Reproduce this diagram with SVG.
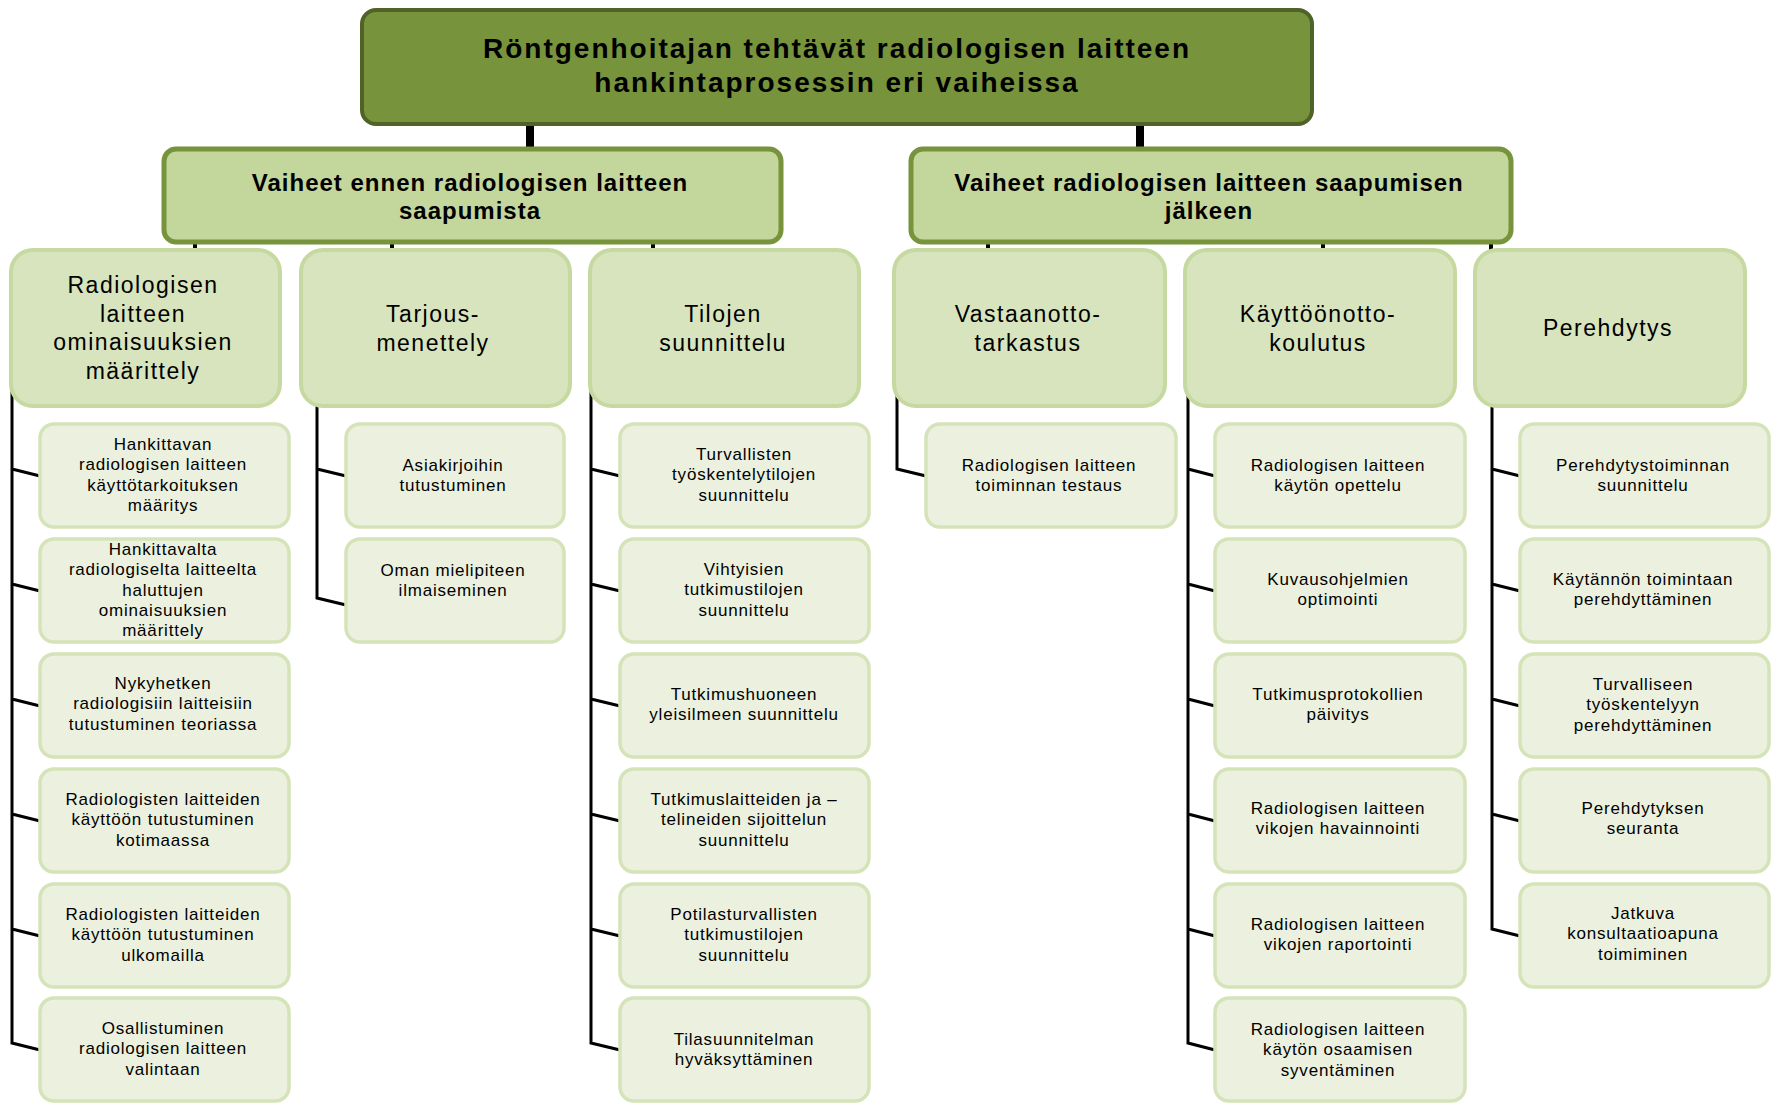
<svg xmlns="http://www.w3.org/2000/svg" width="1771" height="1103" viewBox="0 0 1771 1103">
<style>
.l1{fill:#77933C;stroke:#4F6228;stroke-width:4}
.l2{fill:#C3D69B;stroke:#77933C;stroke-width:5}
.l3{fill:#D7E4BD;stroke:#C6D9A0;stroke-width:4}
.l4{fill:#EBF1DE;stroke:#D5E3B8;stroke-width:3.5}
text{font-family:"Liberation Sans",Arial,sans-serif;fill:#000;text-anchor:middle}
.t1{font-size:28px;font-weight:bold;letter-spacing:2px}
.t2{font-size:24px;font-weight:bold;letter-spacing:1px}
.t3{font-size:23px;letter-spacing:1.5px}
.t4{font-size:17px;letter-spacing:0.8px}
.c{stroke:#000;fill:none;stroke-width:3}
.ct{stroke:#000;fill:none;stroke-width:8}
.cs{stroke:#000;fill:none;stroke-width:4}
</style>
<rect width="1771" height="1103" fill="#fff"/>
<g id="connectors">
<path class="ct" d="M530,125V150M1140,125V150"/>
<path class="cs" d="M195,242V251M392,242V251M653,242V251M988,242V251M1323,242V251M1491,242V251"/>
<path class="c" d="M12,380V1043L40,1050M12,469L40,476M12,584L40,591M12,699L40,706M12,814L40,821M12,929L40,936"/>
<path class="c" d="M317,397V598L346,605M317,469L346,476"/>
<path class="c" d="M591,382V1043L620,1050M591,469L620,476M591,584L620,591M591,699L620,706M591,814L620,821M591,929L620,936"/>
<path class="c" d="M897,382V469L926,476"/>
<path class="c" d="M1188,382V1043L1215,1050M1188,469L1215,476M1188,584L1215,591M1188,699L1215,706M1188,814L1215,821M1188,929L1215,936"/>
<path class="c" d="M1492,397V929L1520,936M1492,469L1520,476M1492,584L1520,591M1492,699L1520,706M1492,814L1520,821"/>
</g>
<g id="root">
<rect class="l1" x="362" y="10" width="950" height="114" rx="14"/>
<text class="t1" x="837" y="58">Röntgenhoitajan tehtävät radiologisen laitteen</text>
<text class="t1" x="837" y="92">hankintaprosessin eri vaiheissa</text>
</g>
<g id="phase-before">
<rect class="l2" x="164" y="149" width="617" height="93" rx="12"/>
<text class="t2" x="470" y="191">Vaiheet ennen radiologisen laitteen</text>
<text class="t2" x="470" y="219">saapumista</text>
</g>
<g id="phase-after">
<rect class="l2" x="911" y="149" width="600" height="93" rx="12"/>
<text class="t2" x="1209" y="191">Vaiheet radiologisen laitteen saapumisen</text>
<text class="t2" x="1209" y="219">jälkeen</text>
</g>
<g id="c1">
<rect class="l3" x="11" y="250" width="269" height="156" rx="22"/>
<text class="t3" x="143" y="293">Radiologisen<tspan x="143" dy="28.5">laitteen</tspan><tspan x="143" dy="28.5">ominaisuuksien</tspan><tspan x="143" dy="28.5">määrittely</tspan></text>
</g>
<g id="c2">
<rect class="l3" x="301" y="250" width="269" height="156" rx="22"/>
<text class="t3" x="433" y="322">Tarjous-<tspan x="433" dy="28.5">menettely</tspan></text>
</g>
<g id="c3">
<rect class="l3" x="590" y="250" width="269" height="156" rx="22"/>
<text class="t3" x="723" y="322">Tilojen<tspan x="723" dy="28.5">suunnittelu</tspan></text>
</g>
<g id="c4">
<rect class="l3" x="894" y="250" width="271" height="156" rx="22"/>
<text class="t3" x="1028" y="322">Vastaanotto-<tspan x="1028" dy="28.5">tarkastus</tspan></text>
</g>
<g id="c5">
<rect class="l3" x="1185" y="250" width="270" height="156" rx="22"/>
<text class="t3" x="1318" y="322">Käyttöönotto-<tspan x="1318" dy="28.5">koulutus</tspan></text>
</g>
<g id="c6">
<rect class="l3" x="1475" y="250" width="270" height="156" rx="22"/>
<text class="t3" x="1608" y="336">Perehdytys</text>
</g>
<g id="c1-1"><rect class="l4" x="40" y="424" width="249" height="103" rx="14"/>
<text class="t4" x="163" y="450">Hankittavan<tspan x="163" dy="20.3">radiologisen laitteen</tspan><tspan x="163" dy="20.3">käyttötarkoituksen</tspan><tspan x="163" dy="20.3">määritys</tspan></text></g>
<g id="c1-2"><rect class="l4" x="40" y="539" width="249" height="103" rx="14"/>
<text class="t4" x="163" y="555">Hankittavalta<tspan x="163" dy="20.3">radiologiselta laitteelta</tspan><tspan x="163" dy="20.3">haluttujen</tspan><tspan x="163" dy="20.3">ominaisuuksien</tspan><tspan x="163" dy="20.3">määrittely</tspan></text></g>
<g id="c1-3"><rect class="l4" x="40" y="654" width="249" height="103" rx="14"/>
<text class="t4" x="163" y="689">Nykyhetken<tspan x="163" dy="20.3">radiologisiin laitteisiin</tspan><tspan x="163" dy="20.3">tutustuminen teoriassa</tspan></text></g>
<g id="c1-4"><rect class="l4" x="40" y="769" width="249" height="103" rx="14"/>
<text class="t4" x="163" y="805">Radiologisten laitteiden<tspan x="163" dy="20.3">käyttöön tutustuminen</tspan><tspan x="163" dy="20.3">kotimaassa</tspan></text></g>
<g id="c1-5"><rect class="l4" x="40" y="884" width="249" height="103" rx="14"/>
<text class="t4" x="163" y="920">Radiologisten laitteiden<tspan x="163" dy="20.3">käyttöön tutustuminen</tspan><tspan x="163" dy="20.3">ulkomailla</tspan></text></g>
<g id="c1-6"><rect class="l4" x="40" y="998" width="249" height="103" rx="14"/>
<text class="t4" x="163" y="1034">Osallistuminen<tspan x="163" dy="20.3">radiologisen laitteen</tspan><tspan x="163" dy="20.3">valintaan</tspan></text></g>
<g id="c2-1"><rect class="l4" x="346" y="424" width="218" height="103" rx="14"/>
<text class="t4" x="453" y="471">Asiakirjoihin<tspan x="453" dy="20.3">tutustuminen</tspan></text></g>
<g id="c2-2"><rect class="l4" x="346" y="539" width="218" height="103" rx="14"/>
<text class="t4" x="453" y="576">Oman mielipiteen<tspan x="453" dy="20.3">ilmaiseminen</tspan></text></g>
<g id="c3-1"><rect class="l4" x="620" y="424" width="249" height="103" rx="14"/>
<text class="t4" x="744" y="460">Turvallisten<tspan x="744" dy="20.3">työskentelytilojen</tspan><tspan x="744" dy="20.3">suunnittelu</tspan></text></g>
<g id="c3-2"><rect class="l4" x="620" y="539" width="249" height="103" rx="14"/>
<text class="t4" x="744" y="575">Vihtyisien<tspan x="744" dy="20.3">tutkimustilojen</tspan><tspan x="744" dy="20.3">suunnittelu</tspan></text></g>
<g id="c3-3"><rect class="l4" x="620" y="654" width="249" height="103" rx="14"/>
<text class="t4" x="744" y="700">Tutkimushuoneen<tspan x="744" dy="20.3">yleisilmeen suunnittelu</tspan></text></g>
<g id="c3-4"><rect class="l4" x="620" y="769" width="249" height="103" rx="14"/>
<text class="t4" x="744" y="805">Tutkimuslaitteiden ja –<tspan x="744" dy="20.3">telineiden  sijoittelun</tspan><tspan x="744" dy="20.3">suunnittelu</tspan></text></g>
<g id="c3-5"><rect class="l4" x="620" y="884" width="249" height="103" rx="14"/>
<text class="t4" x="744" y="920">Potilasturvallisten<tspan x="744" dy="20.3">tutkimustilojen</tspan><tspan x="744" dy="20.3">suunnittelu</tspan></text></g>
<g id="c3-6"><rect class="l4" x="620" y="998" width="249" height="103" rx="14"/>
<text class="t4" x="744" y="1045">Tilasuunnitelman<tspan x="744" dy="20.3">hyväksyttäminen</tspan></text></g>
<g id="c4-1"><rect class="l4" x="926" y="424" width="250" height="103" rx="14"/>
<text class="t4" x="1049" y="471">Radiologisen laitteen<tspan x="1049" dy="20.3">toiminnan testaus</tspan></text></g>
<g id="c5-1"><rect class="l4" x="1215" y="424" width="250" height="103" rx="14"/>
<text class="t4" x="1338" y="471">Radiologisen laitteen<tspan x="1338" dy="20.3">käytön opettelu</tspan></text></g>
<g id="c5-2"><rect class="l4" x="1215" y="539" width="250" height="103" rx="14"/>
<text class="t4" x="1338" y="585">Kuvausohjelmien<tspan x="1338" dy="20.3">optimointi</tspan></text></g>
<g id="c5-3"><rect class="l4" x="1215" y="654" width="250" height="103" rx="14"/>
<text class="t4" x="1338" y="700">Tutkimusprotokollien<tspan x="1338" dy="20.3">päivitys</tspan></text></g>
<g id="c5-4"><rect class="l4" x="1215" y="769" width="250" height="103" rx="14"/>
<text class="t4" x="1338" y="814">Radiologisen laitteen<tspan x="1338" dy="20.3">vikojen havainnointi</tspan></text></g>
<g id="c5-5"><rect class="l4" x="1215" y="884" width="250" height="103" rx="14"/>
<text class="t4" x="1338" y="930">Radiologisen laitteen<tspan x="1338" dy="20.3">vikojen raportointi</tspan></text></g>
<g id="c5-6"><rect class="l4" x="1215" y="998" width="250" height="103" rx="14"/>
<text class="t4" x="1338" y="1035">Radiologisen laitteen<tspan x="1338" dy="20.3">käytön osaamisen</tspan><tspan x="1338" dy="20.3">syventäminen</tspan></text></g>
<g id="c6-1"><rect class="l4" x="1520" y="424" width="249" height="103" rx="14"/>
<text class="t4" x="1643" y="471">Perehdytystoiminnan<tspan x="1643" dy="20.3">suunnittelu</tspan></text></g>
<g id="c6-2"><rect class="l4" x="1520" y="539" width="249" height="103" rx="14"/>
<text class="t4" x="1643" y="585">Käytännön toimintaan<tspan x="1643" dy="20.3">perehdyttäminen</tspan></text></g>
<g id="c6-3"><rect class="l4" x="1520" y="654" width="249" height="103" rx="14"/>
<text class="t4" x="1643" y="690">Turvalliseen<tspan x="1643" dy="20.3">työskentelyyn</tspan><tspan x="1643" dy="20.3">perehdyttäminen</tspan></text></g>
<g id="c6-4"><rect class="l4" x="1520" y="769" width="249" height="103" rx="14"/>
<text class="t4" x="1643" y="814">Perehdytyksen<tspan x="1643" dy="20.3">seuranta</tspan></text></g>
<g id="c6-5"><rect class="l4" x="1520" y="884" width="249" height="103" rx="14"/>
<text class="t4" x="1643" y="919">Jatkuva<tspan x="1643" dy="20.3">konsultaatioapuna</tspan><tspan x="1643" dy="20.3">toimiminen</tspan></text></g>
</svg>
